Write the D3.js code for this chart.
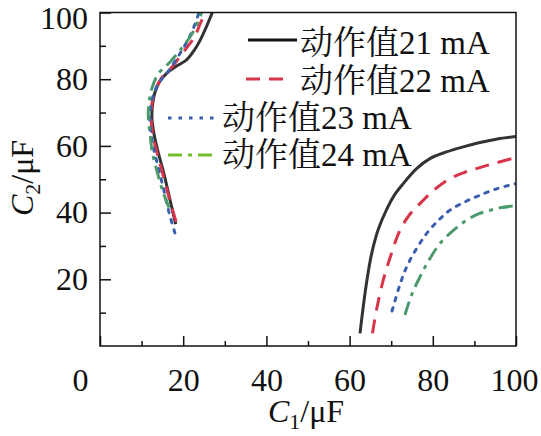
<!DOCTYPE html>
<html><head><meta charset="utf-8">
<script src="https://cdn.jsdelivr.net/npm/d3@7"></script>
<style>body{margin:0;background:#fff}svg{display:block}</style>
</head><body><svg id="c" width="541" height="436"></svg>
<script>
// ---- data ----
const xMajorTicks = [0, 20, 40, 60, 80, 100];
const xMinorTicks = [10, 30, 50, 70, 90];
const yMajorTicks = [20, 40, 60, 80, 100];
const yMinorTicks = [10, 30, 50, 70, 90];
const seriesNames = ["动作值21 mA", "动作值22 mA", "动作值23 mA", "动作值24 mA"];

// left branch (C1, C2)
const left21 = [[18.2,36.5],[16.8,44],[15.3,52],[14.0,58],[13.0,63.5],[12.5,68],[12.6,72],[13.2,76],[14.4,79.4],[16.2,82],[18.5,84],[20.8,85.8],[22.6,88.6],[24.0,91.5],[25.5,95.5],[27.0,100]];
const left22 = [[18.3,37.2],[16.6,44.5],[15.0,52],[13.6,58.5],[12.6,64],[12.3,69],[12.6,73.5],[13.4,77],[14.8,80.4],[17.2,83.5],[19.6,87.4],[21.5,90.5],[22.8,92.8],[24.0,96.4],[25.3,100]];
const left23 = [[18.0,33.9],[16.6,40],[15.3,47],[13.9,54],[12.6,61],[12.0,67],[12.2,72],[13.2,76.5],[14.5,79.5],[16.5,82.5],[18.6,86.5],[20.4,90.1],[22.2,94.5],[23.8,100]];
const left24 = [[16.6,41.5],[15.2,46],[13.8,52],[12.6,58],[12.0,64],[11.6,69],[11.8,73],[12.4,77],[14.0,81.6],[16.8,85.1],[19.2,88.6],[21.0,91.5],[22.8,95.1],[24.4,100]];
// right branch (C1, C2)
const right21 = [[62.5,3.8],[63.3,12],[64.2,20],[65.3,27.7],[66.9,35],[69.0,41.2],[70.8,45.3],[72.9,48.7],[76.1,53.2],[79.3,56.2],[83.3,58.2],[87.3,59.7],[91.3,61.0],[95.5,62.1],[100,62.8]];
const right22 = [[65.5,3.8],[66.5,11],[68.1,19.8],[70,27.5],[72.1,34.7],[74.5,39.5],[76.9,42.7],[80.5,47],[84.1,50.2],[87.5,52],[90.5,53.2],[95.5,55],[100,56.5]];
const right23 = [[70.2,10.5],[72,18],[73.7,23.7],[76,29],[78.5,33.7],[81.2,37.5],[84.1,40.7],[87.7,43.2],[91.3,45.2],[95.5,47.2],[100,48.7]];
const right24 = [[73.3,9.3],[74.8,15],[76.9,20.7],[79.2,26],[81.7,30.7],[84.8,34.5],[88.1,37.7],[91,39.6],[93.8,40.7],[96.5,41.5],[99.5,42]];

// ---- styles ----
const colors = ["#333333", "#d8344a", "#3c5fad", "#4c9a6c"];
const legendColors = ["#111111", "#d8344a", "#3c5fad", "#72bf2c"];
const dashes = [null, "14,9", "3.5,7", "14,6,4,6"];
const FONT = "'Liberation Serif','Times New Roman','Noto Serif CJK SC','Noto Sans CJK SC',serif";

const svg = d3.select("#c");
const x = d3.scaleLinear().domain([0, 100]).range([100, 516]);
const y = d3.scaleLinear().domain([0, 100]).range([346, 12.5]);

svg.append("defs").append("clipPath").attr("id", "clip")
  .append("rect").attr("x", 100).attr("y", 12.5).attr("width", 416).attr("height", 333.5);

const line = d3.line().x(d => x(d[0])).y(d => y(d[1])).curve(d3.curveCatmullRom.alpha(0.5));

const branches = [[left21, right21], [left22, right22], [left23, right23], [left24, right24]];
const g = svg.append("g").attr("clip-path", "url(#clip)");
branches.forEach((br, i) => {
  br.forEach(pts => {
    g.append("path").datum(pts).attr("d", line)
      .attr("fill", "none").attr("stroke", colors[i])
      .attr("stroke-width", 3)
      .attr("stroke-dasharray", dashes[i])
      .attr("stroke-linecap", i === 2 ? "round" : "butt");
  });
});

// ---- axes ----
const ax = svg.append("g").attr("font-family", FONT);
const xAxis = ax.append("g").attr("transform", "translate(0,346)")
  .call(d3.axisBottom(x).tickValues(xMajorTicks).tickSizeInner(-10).tickSizeOuter(0).tickPadding(22));
const xMinor = ax.append("g").attr("transform", "translate(0,346)")
  .call(d3.axisBottom(x).tickValues(xMinorTicks).tickSizeInner(-5).tickSizeOuter(0).tickFormat(""));
const yAxis = ax.append("g").attr("transform", "translate(100,0)")
  .call(d3.axisLeft(y).tickValues(yMajorTicks).tickSizeInner(-11).tickSizeOuter(0).tickPadding(12));
const yMinor = ax.append("g").attr("transform", "translate(100,0)")
  .call(d3.axisLeft(y).tickValues(yMinorTicks).tickSizeInner(-6).tickSizeOuter(0).tickFormat(""));
[xAxis, xMinor, yAxis, yMinor].forEach(a => {
  a.select(".domain").remove();
  a.selectAll(".tick line").attr("stroke", "#111").attr("stroke-width", 1.5);
  a.selectAll("text").attr("font-size", 32).attr("fill", "#111").attr("font-family", FONT);
});
xAxis.selectAll(".tick text").filter(d => d === 0).attr("dx", -20);
xAxis.selectAll(".tick text").filter(d => d === 100).attr("dx", -2);
yAxis.selectAll(".tick text").filter(d => d === 100).attr("dy", "0.38em").attr("y", 4);

// frame
svg.append("rect").attr("x", 100).attr("y", 12.5).attr("width", 416).attr("height", 333.5)
  .attr("fill", "none").attr("stroke", "#111").attr("stroke-width", 1.5);

// axis titles
const xt = svg.append("text").attr("x", 306).attr("y", 422).attr("text-anchor", "middle")
  .attr("font-family", FONT).attr("font-size", 32).attr("fill", "#111");
xt.append("tspan").attr("font-style", "italic").text("C");
xt.append("tspan").attr("font-size", 22).attr("dy", 7).text("1");
xt.append("tspan").attr("dy", -7).text("/μF");

const yt = svg.append("text").attr("transform", "translate(33,178) rotate(-90)").attr("text-anchor", "middle")
  .attr("font-family", FONT).attr("font-size", 32).attr("fill", "#111");
yt.append("tspan").attr("font-style", "italic").text("C");
yt.append("tspan").attr("font-size", 22).attr("dy", 7).text("2");
yt.append("tspan").attr("dy", -7).text("/μF");

// legend
const legendRows = [
  {x1: 248, x2: 297, ly: 40, tx: 300, ty: 54},
  {x1: 246, x2: 288, ly: 79, tx: 300, ty: 92},
  {x1: 168, x2: 219, ly: 118, tx: 222, ty: 129},
  {x1: 168, x2: 216, ly: 155, tx: 222, ty: 166}
];
const leg = svg.append("g");
seriesNames.forEach((name, i) => {
  const r = legendRows[i];
  leg.append("line").attr("x1", r.x1).attr("x2", r.x2).attr("y1", r.ly).attr("y2", r.ly)
    .attr("stroke", legendColors[i]).attr("stroke-width", 3)
    .attr("stroke-dasharray", dashes[i]);
  leg.append("text").attr("x", r.tx).attr("y", r.ty).attr("font-family", FONT)
    .attr("font-size", 33).attr("fill", "#111").text(name);
});
</script></body></html>
